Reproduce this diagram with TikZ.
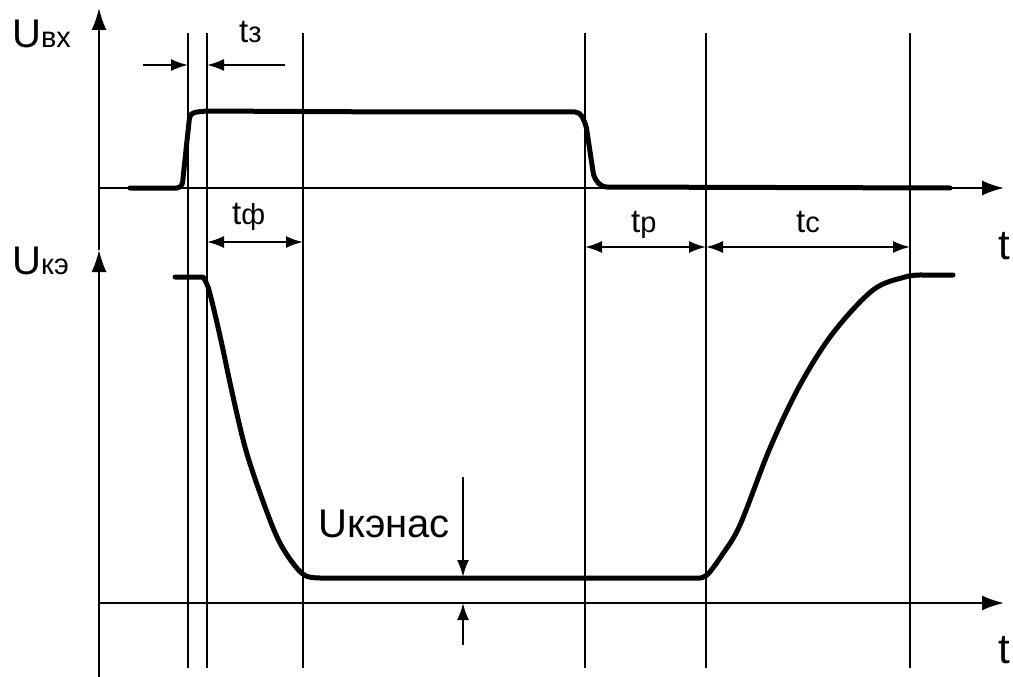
\documentclass[tikz,border=0pt]{standalone}
\usepackage{fontspec}
\setmainfont{Liberation Sans}
\usetikzlibrary{arrows.meta}
\begin{document}
\begin{tikzpicture}[x=1pt,y=-1pt,
  grid/.style={line width=2.2pt},
  sig/.style={line width=5pt,line join=round,line cap=round},
  axisarrow/.style={line width=2pt,-{Latex[length=22pt,width=15pt]}},
  dim/.style={line width=2pt,-{Latex[length=17pt,width=12pt]}},
  dimboth/.style={line width=2pt,{Latex[length=17pt,width=12pt]}-{Latex[length=17pt,width=12pt]}},
  lbl/.style={inner sep=0pt,anchor=base west},
  big/.style={font=\fontsize{40}{44}\selectfont},
  tl/.style={font=\fontsize{33}{38}\selectfont},
  ttl/.style={font=\fontsize{42}{46}\selectfont}]
\useasboundingbox (0,0) rectangle (1013,677);
\newcommand{\sbs}[1]{{\fontsize{29}{32}\selectfont #1}}
% named coordinates
\coordinate (o1) at (99,188);
\coordinate (o2) at (99,603);
\coordinate (x1) at (1004,188);
\coordinate (x2) at (1004,603);
\coordinate (ytop) at (99,8);
\coordinate (ymid) at (99,250);
\coordinate (ybot) at (99,677);
% vertical time marks
\foreach \n/\x in {a/188,b/207,c/303,d/585,e/706,f/910}{
  \coordinate (\n t) at (\x,33);
  \coordinate (\n b) at (\x,668);
  \draw[grid] (\n t) -- (\n b);
}
% axes
\draw[axisarrow] (ymid) -- (ytop);
\draw[axisarrow] (ybot) -- (ymid);
\draw[axisarrow] (o1) -- (x1);
\draw[axisarrow] (o2) -- (x2);
% input signal
\draw[sig,rounded corners=5pt] (130,188) -- (182,188) -- (186,150) -- (190,113) -- (205,111)
  -- (400,112) -- (580,112) -- (586,125) -- (594,178) -- (602,187) -- (950,188);
% output signal
\draw[sig] (175,277) -- (203,277)
  -- plot[smooth,tension=0.55] coordinates {(203,277) (208,287) (214,310) (222,345) (232,392) (245,447) (260,493) (277,537) (292,562) (306,576) (325,578)}
  -- (700,578)
  -- plot[smooth,tension=0.55] coordinates {(700,578) (708,574) (722,555) (740,525) (770,448) (800,385) (833,333) (873,290) (905,277) (922,275)}
  -- (953,275);
% dimension arrows
\coordinate (tzl) at (143,65);
\coordinate (tzr) at (285,65);
\draw[dim] (tzl) -- (at |- tzl);
\draw[dim] (tzr) -- (bt |- tzr);
\draw[dimboth] (207,242) -- (303,242);
\draw[dimboth] (585,247) -- (706,247);
\draw[dimboth] (706,247) -- (910,247);
\coordinate (us1) at (463,477);
\coordinate (us2) at (463,577);
\coordinate (us3) at (463,645);
\coordinate (us4) at (463,603);
\draw[dim] (us1) -- (us2);
\draw[dim] (us3) -- (us4);
% labels
\node[lbl,big] (uvx) at (12,48) {U\sbs{вх}};
\node[lbl,big] (uke) at (12,274) {U\sbs{кэ}};
\node[lbl,tl] (tz) at (239,43) {t\sbs{з}};
\node[lbl,tl] (tf) at (232,224) {t\sbs{ф}};
\node[lbl,tl] (tr) at (631,232) {t\sbs{р}};
\node[lbl,tl] (tc) at (796,232) {t\sbs{с}};
\node[lbl,ttl] (t1) at (998,259) {t};
\node[lbl,ttl] (t2) at (998,663) {t};
\node[lbl,big] (uknas) at (318,537) {Uкэнас};
\end{tikzpicture}
\end{document}
